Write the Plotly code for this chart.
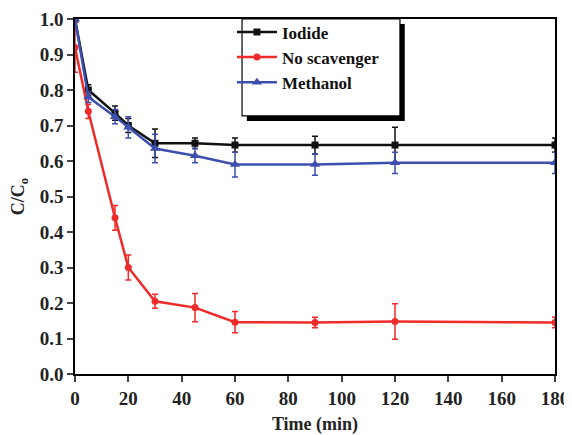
import plotly.graph_objects as go

time = [0, 5, 15, 20, 30, 45, 60, 90, 120, 180]

iodide = [1.0, 0.80, 0.735, 0.70, 0.65, 0.65, 0.645, 0.645, 0.645, 0.645]
iodide_err = [0.0, 0.015, 0.02, 0.02, 0.04, 0.015, 0.02, 0.025, 0.05, 0.02]

no_scav = [0.92, 0.74, 0.44, 0.30, 0.205, 0.187, 0.146, 0.145, 0.148, 0.145]
no_scav_err = [0.07, 0.02, 0.035, 0.035, 0.02, 0.04, 0.03, 0.015, 0.05, 0.015]

methanol = [1.0, 0.78, 0.725, 0.695, 0.635, 0.615, 0.59, 0.59, 0.595, 0.595]
methanol_err = [0.0, 0.015, 0.02, 0.03, 0.04, 0.02, 0.035, 0.03, 0.03, 0.03]

x_ticks = [0, 20, 40, 60, 80, 100, 120, 140, 160, 180]
y_ticks = [0.0, 0.1, 0.2, 0.3, 0.4, 0.5, 0.6, 0.7, 0.8, 0.9, 1.0]

font = "Liberation Serif"
black = "#111111"
red = "#ee2a2a"
blue = "#3c4fae"

fig = go.Figure()

def add(name, y, err, color, symbol, size):
    fig.add_trace(go.Scatter(
        x=time, y=y, name=name, mode="lines+markers",
        line=dict(color=color, width=2.5),
        marker=dict(color=color, symbol=symbol, size=size),
        error_y=dict(type="data", array=err, visible=True, color=color,
                     thickness=1.5, width=3),
    ))

add("Iodide", iodide, iodide_err, black, "square", 7)
add("No scavenger", no_scav, no_scav_err, red, "circle", 7)
add("Methanol", methanol, methanol_err, blue, "triangle-up", 9)

# legend frame with shadow
fig.add_shape(type="rect", xref="paper", yref="paper",
              x0=0.358, x1=0.687, y0=0.713, y1=0.986,
              fillcolor="black", line=dict(width=0), layer="above")
fig.add_shape(type="rect", xref="paper", yref="paper",
              x0=0.348, x1=0.677, y0=0.727, y1=1.0,
              fillcolor="white", line=dict(color="black", width=1.2), layer="above")

fig.update_layout(
    width=564, height=427,
    margin=dict(l=67, r=17, t=11, b=61, autoexpand=False),
    paper_bgcolor="white", plot_bgcolor="white",
    font=dict(family=font, color="#222", size=18),
    showlegend=True,
    legend=dict(x=0.327, y=0.985, xanchor="left", yanchor="top", yref="container",
                bgcolor="rgba(0,0,0,0)", borderwidth=0,
                font=dict(family=font, size=17, color="#111", weight="bold"),
                tracegroupgap=0, itemwidth=40),
    xaxis=dict(range=[0, 180], tickvals=x_ticks, ticks="outside", ticklen=6,
               tickwidth=1.5, showline=True, linecolor="black", linewidth=1.5,
               mirror=True, showgrid=False, zeroline=False, automargin=False,
               ticklabeloverflow="allow",
               tickfont=dict(family=font, size=19, weight="bold"),
               title=dict(text="Time (min)", font=dict(family=font, size=18, weight="bold"),
                          standoff=20)),
    yaxis=dict(range=[0, 1.0], tickvals=y_ticks, tickformat=".1f", ticks="outside",
               ticklen=6, tickwidth=1.5, showline=True, linecolor="black",
               linewidth=1.5, mirror=True, showgrid=False, zeroline=False, automargin=False,
               ticklabeloverflow="allow",
               tickfont=dict(family=font, size=19, weight="bold"),
               title=dict(text="C/C<sub>o</sub>", font=dict(family=font, size=18, weight="bold"),
                          standoff=14)),
)

fig.write_html("out.html")
